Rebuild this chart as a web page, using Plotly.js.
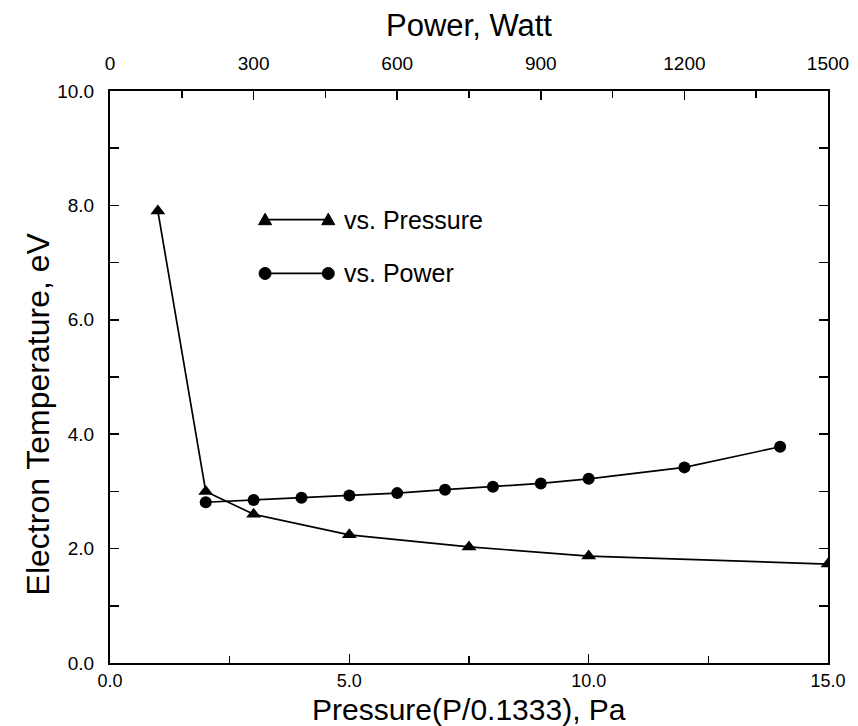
<!DOCTYPE html>
<html>
<head>
<meta charset="utf-8">
<script src="https://cdn.plot.ly/plotly-3.0.1.min.js"></script>
<style>html,body{margin:0;padding:0;background:#fff;}#chart{width:858px;height:726px;}</style>
</head>
<body>
<div id="chart"></div>
<script>
// ---- data ----
const pressure = [1.0, 2.0, 3.0, 5.0, 7.5, 10.0, 15.0];          // Pa (bottom axis)
const tePressure = [7.9, 3.0, 2.6, 2.24, 2.03, 1.87, 1.73];       // eV
const power = [200, 300, 400, 500, 600, 700, 800, 900, 1000, 1200, 1400]; // W (top axis)
const tePower = [2.81, 2.85, 2.89, 2.93, 2.97, 3.03, 3.08, 3.14, 3.22, 3.42, 3.78]; // eV
const seriesNames = ['vs. Pressure', 'vs. Power'];
const yTitle = 'Electron Temperature, eV';
const xTitle = 'Pressure(P/0.1333), Pa';
const x2Title = 'Power, Watt';

const FONT = '"Liberation Sans", Arial, Helvetica, sans-serif';
const BLACK = '#000';

const traces = [
  {
    x: pressure, y: tePressure, name: seriesNames[0],
    type: 'scatter', mode: 'lines+markers',
    xaxis: 'x', yaxis: 'y',
    line: {color: BLACK, width: 1.7},
    marker: {symbol: 'triangle-up', size: 13, color: BLACK}
  },
  {
    x: power, y: tePower, name: seriesNames[1],
    type: 'scatter', mode: 'lines+markers',
    xaxis: 'x2', yaxis: 'y',
    line: {color: BLACK, width: 1.7},
    marker: {symbol: 'circle', size: 12, color: BLACK}
  }
];

// legend drawn inside the plot (marker - line - marker, as in the reference)
const LEG = {x0: 0.216, x1: 0.304, xt: 0.323, y: [0.775, 0.681]};
const shapes = [];
const annotations = [];
LEG.y.forEach((yy, i) => {
  shapes.push({type: 'line', xref: 'paper', yref: 'paper', x0: LEG.x0, x1: LEG.x1, y0: yy, y1: yy,
               line: {color: BLACK, width: 1.7}});
  [LEG.x0, LEG.x1].forEach(xx => {
    if (i === 0) {
      shapes.push({type: 'path', xref: 'paper', yref: 'paper', xsizemode: 'pixel', ysizemode: 'pixel',
                   xanchor: xx, yanchor: yy, path: 'M -6.5,-5 L 6.5,-5 L 0,6.5 Z',
                   fillcolor: BLACK, line: {color: BLACK, width: 1}});
    } else {
      shapes.push({type: 'circle', xref: 'paper', yref: 'paper', xsizemode: 'pixel', ysizemode: 'pixel',
                   xanchor: xx, yanchor: yy, x0: -6, x1: 6, y0: -6, y1: 6,
                   fillcolor: BLACK, line: {color: BLACK, width: 1}});
    }
  });
  annotations.push({xref: 'paper', yref: 'paper', x: LEG.xt, y: yy, xanchor: 'left', yanchor: 'middle',
                    text: seriesNames[i], showarrow: false, font: {family: FONT, size: 25, color: BLACK}});
});

// axis titles placed as in the reference
annotations.push({xref: 'paper', yref: 'paper', x: -0.100, y: 0.435, xanchor: 'center', yanchor: 'middle',
                  textangle: -90, text: yTitle, showarrow: false,
                  font: {family: FONT, size: 32, color: BLACK}});
annotations.push({xref: 'paper', yref: 'paper', x: 0.5, y: -0.081, xanchor: 'center', yanchor: 'middle',
                  text: xTitle, showarrow: false, borderpad: 0,
                  font: {family: FONT, size: 30, color: BLACK}});

const axisCommon = {
  showgrid: false, zeroline: false, showline: true, linecolor: BLACK, linewidth: 2,
  ticks: 'inside', ticklen: 9, tickwidth: 1.5, tickcolor: BLACK,
  tickfont: {family: FONT, size: 19, color: BLACK}, automargin: false
};

const layout = {
  width: 858, height: 726,
  margin: {l: 110, r: 30, t: 91, b: 63},
  paper_bgcolor: '#fff', plot_bgcolor: '#fff',
  showlegend: false,
  font: {family: FONT, color: BLACK},
  xaxis: Object.assign({}, axisCommon, {
    range: [0, 15], dtick: 5, tick0: 0, tickformat: '.1f',
    tickfont: {family: FONT, size: 18, color: BLACK},
    minor: {dtick: 2.5, tick0: 0, ticks: 'inside', ticklen: 7, tickwidth: 1.5, tickcolor: BLACK},
    ticklabelstandoff: 0
  }),
  xaxis2: Object.assign({}, axisCommon, {
    overlaying: 'x', side: 'top', anchor: 'y',
    range: [0, 1500], dtick: 300, tick0: 0, tickformat: 'd',
    minor: {dtick: 150, tick0: 0, ticks: 'inside', ticklen: 7, tickwidth: 1.5, tickcolor: BLACK},
    ticklabelstandoff: 11,
    title: {text: x2Title, font: {family: FONT, size: 31, color: BLACK}, standoff: 8}
  }),
  yaxis: Object.assign({}, axisCommon, {
    range: [0, 10], dtick: 2, tick0: 0, tickformat: '.1f', mirror: 'ticks',
    minor: {dtick: 1, tick0: 0, ticks: 'inside', ticklen: 9, tickwidth: 1.5, tickcolor: BLACK},
    ticklabelstandoff: 10
  }),
  shapes: shapes,
  annotations: annotations
};

Plotly.newPlot('chart', traces, layout, {displayModeBar: false, staticPlot: true});
</script>
</body>
</html>
